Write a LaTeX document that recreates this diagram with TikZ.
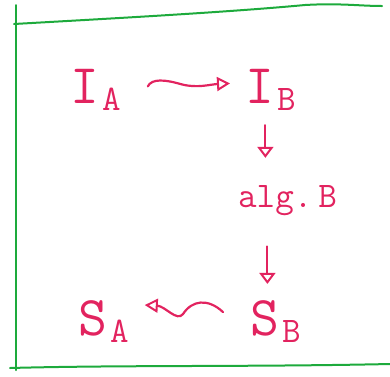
\documentclass[tikz,border=0pt]{standalone}
\usepackage{xcolor}
\usepackage{tikz}
\usetikzlibrary{arrows.meta,calc}

\definecolor{ink}{HTML}{E2235F}
\definecolor{frame}{HTML}{1DAA3C}

\newcommand{\hsub}[2]{#1\kern3pt\raisebox{-7pt}{\fontsize{36}{36}\selectfont #2}}

\begin{document}
\begin{tikzpicture}[
  x=1pt,y=-1pt,
  lbl/.style={text=ink,inner sep=0pt,anchor=base west,font=\ttfamily\fontsize{56}{56}\selectfont},
  small/.style={lbl,font=\ttfamily\fontsize{36}{36}\selectfont},
  wave/.style={ink,line width=2.2pt,line cap=round,-{Triangle[open,length=13pt,width=14pt,line width=2pt]}},
  down/.style={ink,line width=2.2pt,line cap=round,-{Triangle[open,length=11pt,width=16pt,line width=2pt]}},
  edge/.style={frame,line width=2pt,line cap=round}
]
  \useasboundingbox (0,0) rectangle (390,376);
  % frame
  \draw[edge] (16,5) -- (16,370);
  \draw[edge] (14,24) .. controls (120,18) and (230,12) .. (305,5) .. controls (340,3) and (360,6) .. (382,6);
  \draw[edge] (10,368) .. controls (120,365) and (250,367) .. (390,364);
  % labels
  \node[lbl] (ia) at (70,103) {\hsub{I}{A}};
  \node[lbl] (ib) at (245,103) {\hsub{I}{B}};
  \node[small] (algb) at (238,207) {alg.\,B};
  \node[lbl] (sa) at (78,335) {\hsub{S}{A}};
  \node[lbl] (sb) at (250,335) {\hsub{S}{B}};
  % arrows
  \draw[wave] ($(ia.east)+(27,-3)$) .. controls ($(ia.east)+(31,-11)$) and ($(ia.east)+(44,-10)$) .. ($(ia.east)+(61,-5)$)
    .. controls ($(ia.east)+(77,-1)$) and ($(ia.east)+(89,-5)$) .. ($(ib.west)+(-15,-6)$);
  \draw[down] ($(ib.south)+(-5,15)$) -- ($(algb.north -| ib.south)+(-5,-27)$);
  \draw[down] ($(algb.south -| ib.south)+(-3,31)$) -- ($(sb.north -| ib.south)+(-3,-16)$);
  \draw[wave] ($(sb.west)+(-27,-9)$) .. controls ($(sb.west)+(-42,-23)$) and ($(sb.west)+(-58,-21)$) .. ($(sb.west)+(-67,-7)$)
    .. controls ($(sb.west)+(-73,1)$) and ($(sb.west)+(-85,-15)$) .. ($(sa.east)+(16,-16)$);
\end{tikzpicture}
\end{document}
